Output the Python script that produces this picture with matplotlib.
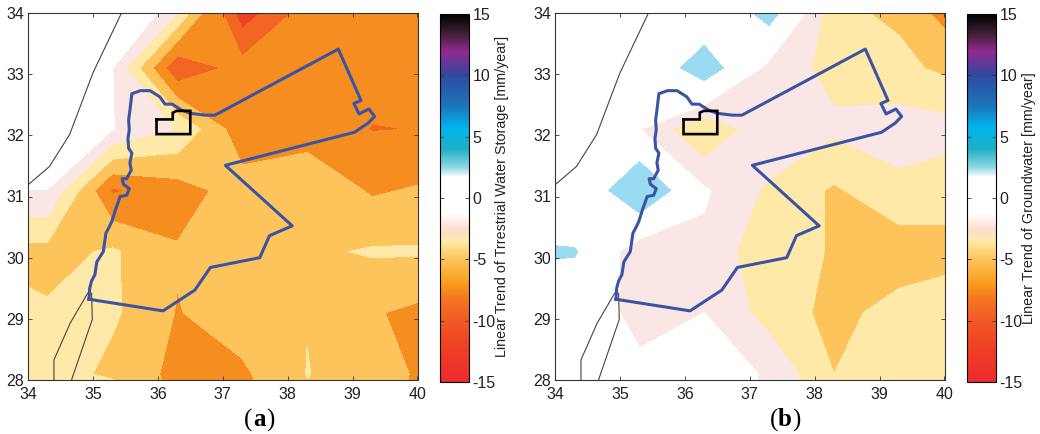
import matplotlib
matplotlib.use("Agg")
import numpy as np
import matplotlib.pyplot as plt
from matplotlib.colors import LinearSegmentedColormap, Normalize
from matplotlib.cm import ScalarMappable

plt.rcParams['font.family'] = ['Liberation Sans', 'DejaVu Sans']
plt.rcParams['axes.unicode_minus'] = False

# 1 degree grid of the trends (mm/year), north to south
lon = [33.3, 34.3, 35.3, 36.3, 37.3, 38.3, 39.3, 40.3]
lat = [34.1, 33.1, 32.1, 31.1, 30.1, 29.1, 28.1, 27.1]

tws = [
    [-0.5, -0.5, 1.4, -2.4, -10.2, -7.1, -7.0, -7.0],
    [-0.5, -0.5, -1.45, -8.8, -6.86, -7.0, -7.0, -7.0],
    [-0.5, -0.5, -1.45, -3.1, -7.0, -6.8, -7.55, -7.45],
    [-1.52, -1.52, -7.7, -6.7, -5.3, -4.7, -6.2, -5.7],
    [-5.0, -5.0, -4.3, -5.86, -5.0, -4.77, -4.35, -4.35],
    [-2.6, -4.33, -4.25, -6.08, -5.2, -4.55, -5.85, -6.6],
    [-3.0, -3.5, -4.93, -6.4, -6.27, -4.46, -5.2, -6.6],
    [-3.0, -3.0, 0.0, -6.4, -7.0, -5.0, -5.2, -7.0],
]

gw = [
    [-0.5, -0.5, -0.5, -1.1, 3.07, -4.2, -4.9, -7.8],
    [-0.5, -0.5, -1.05, 3.0, -2.17, -3.45, -4.05, -5.2],
    [-0.5, -0.5, -1.45, -4.55, -1.73, -2.74, -2.3, -2.5],
    [-1.0, -1.4, 4.08, -1.3, -3.3, -4.7, -3.42, -4.05],
    [2.0, 1.7, -2.95, -1.84, -4.16, -4.56, -5.35, -4.85],
    [-0.5, -0.5, -1.93, -1.5, -3.62, -4.96, -3.94, -3.71],
    [-0.5, -0.5, -1.19, -0.14, -1.78, -4.5, -3.5, -3.5],
    [-0.5, -0.5, -1.0, -0.14, -2.0, -4.0, -3.5, -3.5],
]

# contour bands
levels = [-10.5, -9, -7.5, -6, -4.5, -3, -1.5, 1.5, 5]
band_colors = ['#EF4123', '#F26522', '#F68D21', '#FEC45C', '#FEE9A8',
               '#FBE6E6', '#FFFFFF', '#9ADBF2']

# country border
border_lon = [34.94, 36.08, 36.57, 36.81, 37.57, 37.72, 38.07, 37.04, 39.03, 39.24,
              39.34, 39.25, 39.10, 39.02, 39.13, 38.78, 36.88, 36.73, 36.5, 36.37,
              36.22, 36.11, 36.03, 35.88, 35.73, 35.60, 35.57, 35.55, 35.56, 35.54,
              35.55, 35.60, 35.57, 35.59, 35.52, 35.45, 35.47, 35.56, 35.52, 35.42,
              35.35, 35.29, 35.25, 35.20, 35.18, 35.16, 35.06, 35.03, 34.98, 34.95,
              34.94]
border_lat = [29.32, 29.13, 29.47, 29.84, 30.00, 30.36, 30.52, 31.51, 32.05, 32.20,
              32.31, 32.43, 32.35, 32.52, 32.57, 33.41, 32.33, 32.33, 32.36, 32.41,
              32.51, 32.51, 32.63, 32.73, 32.73, 32.68, 32.41, 32.25, 32.09, 31.95,
              31.79, 31.71, 31.55, 31.43, 31.29, 31.29, 31.20, 31.13, 31.02, 31.00,
              30.79, 30.59, 30.50, 30.40, 30.25, 30.10, 29.93, 29.72, 29.62, 29.50,
              29.32]

# study area
box_lon = [35.98, 36.23, 36.23, 36.29, 36.5, 36.5, 35.98, 35.98]
box_lat = [32.26, 32.26, 32.37, 32.4, 32.4, 32.02, 32.02, 32.26]

# thin coast lines
coast1_lon = [34.0, 34.33, 34.64, 35.0, 35.44]
coast1_lat = [31.19, 31.49, 32.01, 33.02, 34.0]
coast2_lon = [34.92, 34.65, 34.4, 34.4]
coast2_lat = [29.42, 28.93, 28.33, 28.0]
coast3_lon = [34.98, 34.99, 34.67]
coast3_lat = [29.42, 28.99, 28.0]

cbar_ticks = [-15, -10, -5, 0, 5, 10, 15]
cbar_values = [-15, -12, -10, -8, -7, -5, -3.5, -2.5, -1.3, 1.7, 2.5, 4, 5.7, 7.5, 10, 12, 13.5, 15]
cbar_colors = ['#EE2A2E', '#EF4123', '#F15A25', '#F47B20', '#F99D1C', '#FEC45C', '#FEE9A8',
               '#FBDDD0', '#FFFFFF', '#FFFFFF', '#8FD8E4', '#1FAFC4', '#00B5EF', '#1C75BC',
               '#2E4B9F', '#92278F', '#3A2030', '#000000']

W, H = 1040, 434
fig = plt.figure(figsize=(W / 100, H / 100), dpi=100)

norm = Normalize(-15, 15)
cmap = LinearSegmentedColormap.from_list(
    'trend', [((v + 15) / 30, c) for v, c in zip(cbar_values, cbar_colors)], N=512)


def panel(left, data, letter, letter_x, cbar_label, label_y):
    ax = fig.add_axes([left / W, 1 - 380 / H, 389.5 / W, 367 / H])
    ax.contourf(lon, lat, np.array(data), levels=levels, colors=band_colors)
    ax.plot(coast1_lon, coast1_lat, color='#444444', lw=0.8)
    ax.plot(coast2_lon, coast2_lat, color='#444444', lw=0.8)
    ax.plot(coast3_lon, coast3_lat, color='#444444', lw=0.8)
    ax.plot(border_lon, border_lat, color='#3A53A4', lw=2.2, solid_joinstyle='round')
    ax.plot(box_lon, box_lat, color='black', lw=1.9, solid_joinstyle='miter')
    ax.set_xlim(34, 40)
    ax.set_ylim(28, 34)
    ax.tick_params(direction='in', top=True, right=True, length=3, width=0.6,
                   labelsize=11.5, color='#333333', labelcolor='#222222')
    ax.tick_params(axis='x', pad=5)
    ax.tick_params(axis='y', pad=3)
    for s in ax.spines.values():
        s.set_linewidth(0.8)
        s.set_color('#333333')

    cax = fig.add_axes([(left + 412) / W, 1 - 382 / H, 28.5 / W, 368 / H])
    cb = fig.colorbar(ScalarMappable(norm=norm, cmap=cmap), cax=cax, ticks=cbar_ticks)
    cb.ax.tick_params(direction='in', left=True, right=True, length=3, width=0.6,
                      labelsize=11.5, pad=3, color='#333333', labelcolor='#222222')
    cb.outline.set_linewidth(0.8)
    fig.text((left + 474) / W, 1 - label_y / H, cbar_label, rotation=90, fontsize=10.3,
             ha='center', va='center', color='#222222')
    y = 1 - 420 / H
    fig.text((letter_x - 7) / W, y, '(', family='Liberation Serif', fontsize=18,
             ha='right', va='center')
    fig.text(letter_x / W, y, letter, family='Liberation Serif', fontsize=18,
             fontweight='bold', ha='center', va='center')
    fig.text((letter_x + 7) / W, y, ')', family='Liberation Serif', fontsize=18,
             ha='left', va='center')


panel(28, tws, 'a', 259, 'Linear Trend of Trrestrial Water Storage [mm/year]', 196)
panel(555, gw, 'b', 785, 'Linear Trend of Groundwater [mm/year]', 198)

fig.savefig('out.png', dpi=100)
